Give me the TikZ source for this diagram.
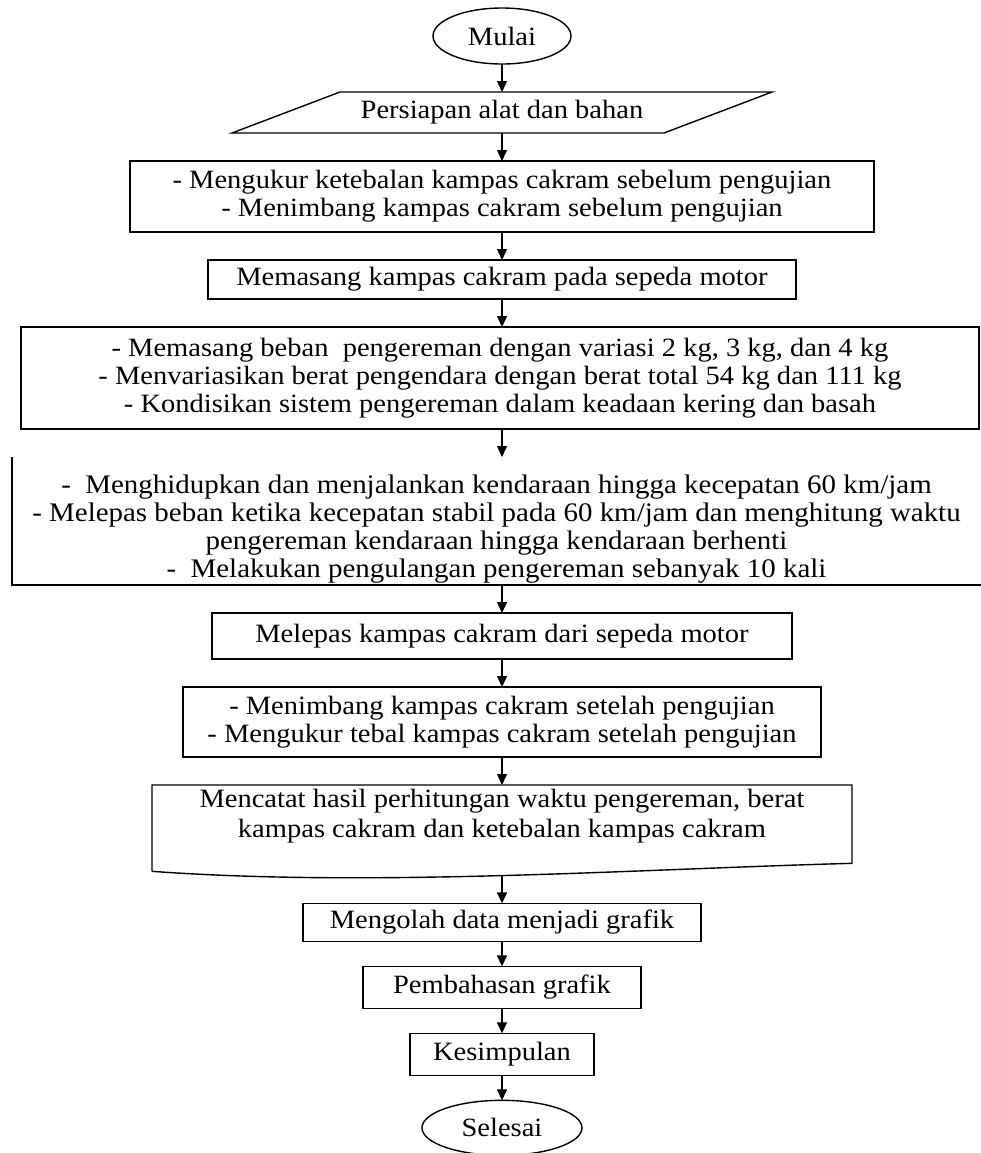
\documentclass[tikz,border=0pt]{standalone}
\usepackage{fontspec}
\setmainfont{Liberation Serif}[FakeStretch=1.08]
\usetikzlibrary{positioning, shapes.geometric, arrows.meta}

\begin{document}
\begin{tikzpicture}[x=0.5pt, y=-0.5pt, node distance=14pt, line width=0.7pt,
                >={Triangle[length=5.5pt, width=5pt]},
                every node/.style={font=\fontsize{13.2}{13.9}\selectfont, outer sep=0pt, inner sep=2pt},
                proses/.style={draw, rectangle, align=center},
                terminal/.style={draw, ellipse}]
        \useasboundingbox (0,0) rectangle (981,1153);
        \node [terminal, minimum width=69pt, minimum height=28pt] (mulai) at (502,36) {Mulai};
        \node [align=center, minimum width=216pt, minimum height=20.5pt, below=of mulai] (persiapan) {Persiapan alat dan bahan};
        \node [proses, minimum width=372pt, minimum height=35.5pt, below=of persiapan] (ukur) {- Mengukur ketebalan kampas cakram sebelum pengujian\\- Menimbang kampas cakram sebelum pengujian};
        \node [proses, minimum width=294pt, minimum height=19.5pt, below=of ukur] (pasang) {Memasang kampas cakram pada sepeda motor};
        \node [proses, minimum width=479pt, minimum height=51pt, below=of pasang, xshift=-1pt] (beban) {- Memasang beban\ \ pengereman dengan variasi 2 kg, 3 kg, dan 4 kg\\- Menvariasikan berat pengendara dengan berat total 54 kg dan 111 kg\\- Kondisikan sistem pengereman dalam keadaan kering dan basah};
        \node [align=center, inner ysep=0pt, minimum width=484.5pt, minimum height=64pt, below=of beban, xshift=-1.75pt, font=\fontsize{13.4}{14}\selectfont] (jalan) {\rule{0pt}{17pt}-\ \ Menghidupkan dan menjalankan kendaraan hingga kecepatan 60 km/jam\\- Melepas beban ketika kecepatan stabil pada 60 km/jam dan menghitung waktu\\pengereman kendaraan hingga kendaraan berhenti\\-\ \ Melakukan pengulangan pengereman sebanyak 10 kali};
        \node [proses, minimum width=290pt, minimum height=23pt, below=of jalan, xshift=2.75pt] (lepas) {Melepas kampas cakram dari sepeda motor};
        \node [proses, minimum width=319pt, minimum height=35pt, below=of lepas] (timbang) {- Menimbang kampas cakram setelah pengujian\\- Mengukur tebal kampas cakram setelah pengujian};
        \node [align=center, minimum width=350pt, minimum height=41pt, below=of timbang, font=\fontsize{13.2}{15}\selectfont] (catat) {Mencatat hasil perhitungan waktu pengereman, berat\\kampas cakram dan ketebalan kampas cakram\\[2pt]};
        \node [proses, minimum width=199pt, minimum height=19pt, below=of catat] (olah) {Mengolah data menjadi grafik};
        \node [proses, minimum width=139pt, minimum height=21pt, below=12.5pt of olah] (bahas) {Pembahasan grafik};
        \node [proses, minimum width=92pt, minimum height=21pt, below=12.5pt of bahas] (simpul) {Kesimpulan};
        \node [terminal, minimum width=80pt, minimum height=27.5pt, below=12.5pt of simpul] (selesai) {Selesai};

%% outlines
        \draw ([xshift=-27pt]persiapan.south west) -- ([xshift=-27pt]persiapan.south east)
              -- ([xshift=27pt]persiapan.north east) -- ([xshift=27pt]persiapan.north west) -- cycle;
        \draw (jalan.north west) -- (jalan.south west) -- (jalan.south east);
        \draw ([yshift=2pt]catat.south west) -- (catat.north west) -- (catat.north east) -- ([yshift=6pt]catat.south east)
              .. controls ([xshift=-110pt, yshift=3pt]catat.south east) and ([xshift=110pt, yshift=-6pt]catat.south west)
              .. ([yshift=2pt]catat.south west);

%% paths
        \path [->]
                 (mulai) edge (persiapan)
                 (persiapan) edge (ukur)
                 (ukur) edge (pasang)
                 (pasang) edge (beban.north -| pasang.south)
                 (beban.south -| pasang.south) edge (jalan.north -| pasang.south)
                 (jalan.south -| lepas.north) edge (lepas)
                 (lepas) edge (timbang)
                 (timbang) edge (catat)
                 (catat) edge (olah)
                 (olah) edge (bahas)
                 (bahas) edge (simpul)
                 (simpul) edge (selesai)
                 ;
\end{tikzpicture}
\end{document}
